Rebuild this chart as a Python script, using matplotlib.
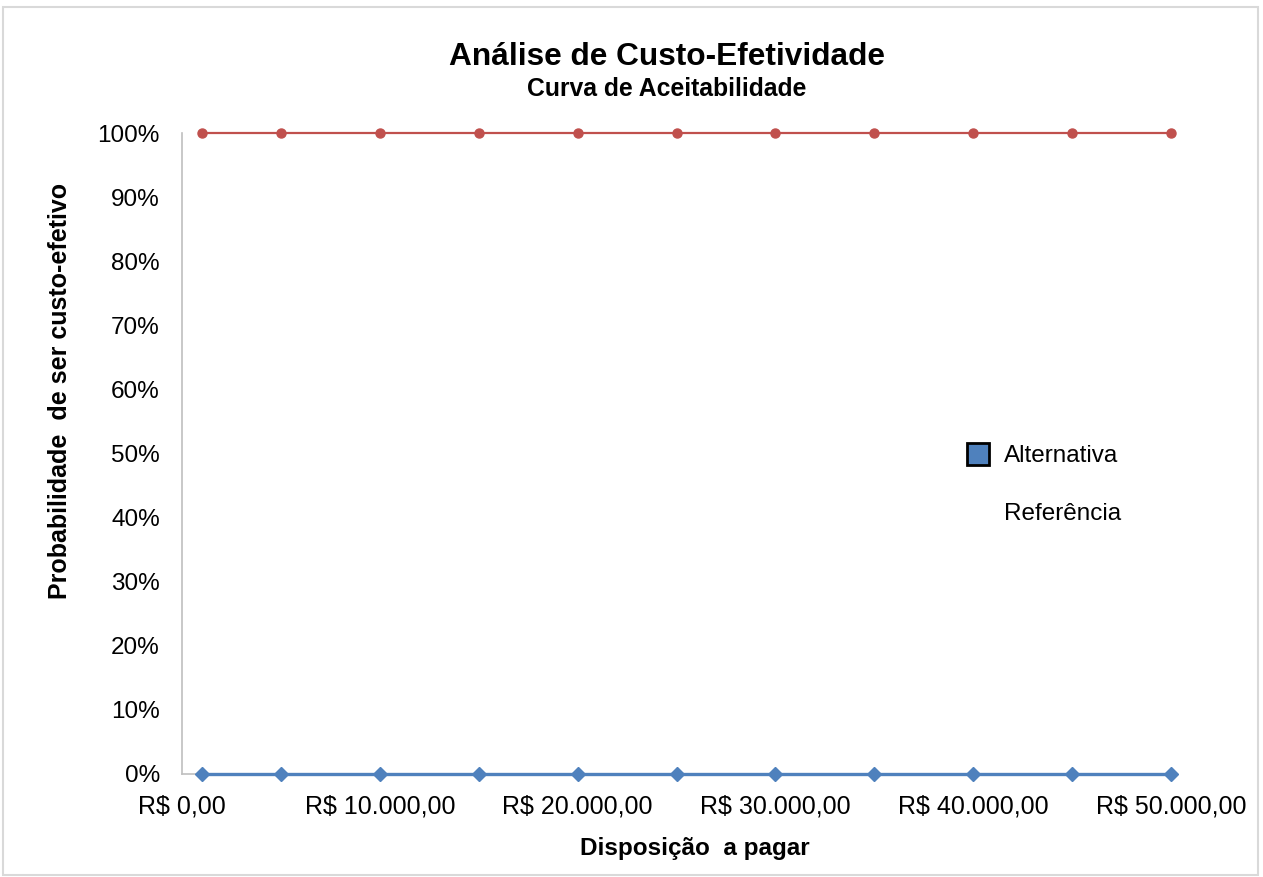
import matplotlib
import matplotlib.pyplot as plt
from matplotlib.lines import Line2D
from matplotlib.patches import Rectangle

matplotlib.use("agg")
plt.rcParams["font.family"] = ["Liberation Sans", "DejaVu Sans"]

# willingness to pay (R$) and probability of being cost-effective
wtp = [1000, 5000, 10000, 15000, 20000, 25000, 30000, 35000, 40000, 45000, 50000]
alternativa = [0, 0, 0, 0, 0, 0, 0, 0, 0, 0, 0]
referencia = [1, 1, 1, 1, 1, 1, 1, 1, 1, 1, 1]

x_ticks = [0, 10000, 20000, 30000, 40000, 50000]
x_tick_labels = ["R$ 0,00", "R$ 10.000,00", "R$ 20.000,00",
                 "R$ 30.000,00", "R$ 40.000,00", "R$ 50.000,00"]
y_ticks = [0, 0.1, 0.2, 0.3, 0.4, 0.5, 0.6, 0.7, 0.8, 0.9, 1.0]
y_tick_labels = ["0%", "10%", "20%", "30%", "40%", "50%",
                 "60%", "70%", "80%", "90%", "100%"]

blue = "#4F81BD"
red = "#C0504D"

fig = plt.figure(figsize=(12.63, 8.77), dpi=100)
ax = fig.add_axes([182 / 1263, 1 - 774 / 877, (1171 - 182) / 1263, (774 - 133) / 877])

ax.plot(wtp, referencia, color=red, lw=1.6, marker="o", markersize=6.5,
        clip_on=False, zorder=3)
ax.plot(wtp, alternativa, color=blue, lw=2.4, marker="D", markersize=7,
        clip_on=False, zorder=4)

ax.set_xlim(0, 50000)
ax.set_ylim(0, 1)
ax.set_xticks(x_ticks)
ax.set_xticklabels(x_tick_labels)
ax.set_yticks(y_ticks)
ax.set_yticklabels(y_tick_labels)
ax.tick_params(axis="x", length=0, labelsize=18, pad=15)
ax.tick_params(axis="y", length=0, labelsize=17.5, pad=16)

for side in ["top", "right"]:
    ax.spines[side].set_visible(False)
for side in ["left", "bottom"]:
    ax.spines[side].set_color("#BFBFBF")
    ax.spines[side].set_linewidth(1.2)

ax.set_xlabel("Disposição  a pagar", fontsize=17.5, fontweight="bold")
ax.xaxis.set_label_coords((695 - 182) / 989, -(848 - 774) / 641)
ax.xaxis.label.set_va("center")
ax.set_ylabel("Probabilidade  de ser custo-efetivo", fontsize=18,
              fontweight="bold")
ax.yaxis.set_label_coords((60 - 182) / 989, (774 - 391) / 641)
ax.yaxis.label.set_va("center")

fig.text(667 / 1263, 1 - 57 / 877, "Análise de Custo-Efetividade", ha="center",
         va="center", fontsize=22.8, fontweight="bold")
fig.text(667 / 1263, 1 - 89 / 877, "Curva de Aceitabilidade", ha="center",
         va="center", fontsize=17.8, fontweight="bold")

handles = [
    Line2D([], [], linestyle="none", marker="s", markersize=16,
           markerfacecolor=blue, markeredgecolor="black", markeredgewidth=2),
    Line2D([], [], linestyle="none", marker="none"),
]
ax.legend(handles, ["Alternativa", "Referência"], loc="center left",
          bbox_to_anchor=(0.77, 0.451), frameon=False, fontsize=17.5,
          labelspacing=1.45, handlelength=1.0, handletextpad=0.6)

fig.patches.append(Rectangle((3 / 1263, 0.002), 1255 / 1263, 1 - 7 / 877 - 0.002,
                             transform=fig.transFigure, fill=False,
                             edgecolor="#D9D9D9", lw=1.5))

fig.savefig("out.png", dpi=100)
